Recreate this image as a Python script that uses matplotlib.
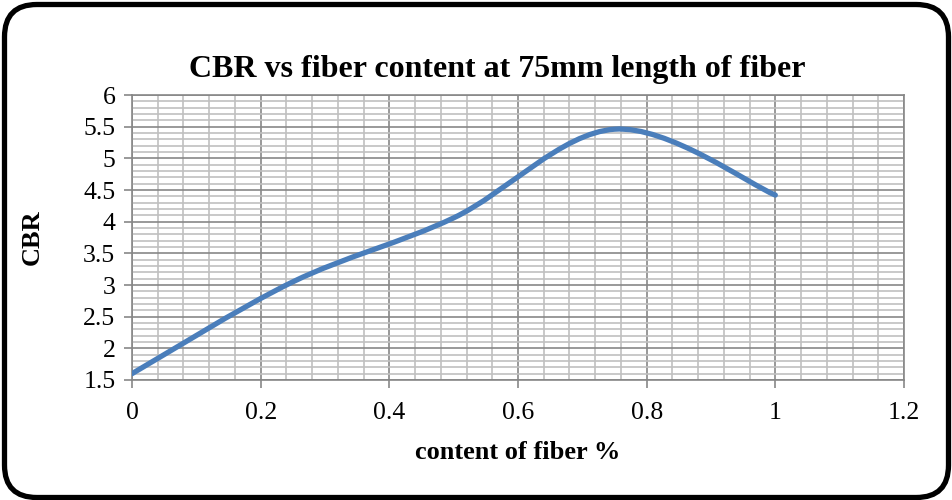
import matplotlib.pyplot as plt
import numpy as np
from matplotlib.path import Path
from matplotlib.patches import PathPatch, FancyBboxPatch
from matplotlib.ticker import MultipleLocator

# data
fiber_content = [0.0, 0.25, 0.5, 0.75, 1.0]
cbr = [1.6, 3.05, 4.06, 5.46, 4.42]

x_ticks = [0, 0.2, 0.4, 0.6, 0.8, 1, 1.2]
x_tick_labels = ['0', '0.2', '0.4', '0.6', '0.8', '1', '1.2']
y_ticks = [1.5, 2, 2.5, 3, 3.5, 4, 4.5, 5, 5.5, 6]
y_tick_labels = ['1.5', '2', '2.5', '3', '3.5', '4', '4.5', '5', '5.5', '6']


def smooth_path(xs, ys):
    # Excel-like smoothed line: cubic bezier segments through each point
    pts = np.column_stack([xs, ys])
    n = len(pts)
    verts = [pts[0]]
    codes = [Path.MOVETO]
    for i in range(n - 1):
        p0 = pts[max(i - 1, 0)]
        p1 = pts[i]
        p2 = pts[i + 1]
        p3 = pts[min(i + 2, n - 1)]
        c1 = p1 + (p2 - p0) / 6.0
        c2 = p2 - (p3 - p1) / 6.0
        verts += [c1, c2, p2]
        codes += [Path.CURVE4] * 3
    return Path(verts, codes)


plt.rcParams['font.family'] = ['Liberation Serif', 'DejaVu Serif']

fig = plt.figure(figsize=(9.52, 5.0), dpi=100)
ax = fig.add_axes([132 / 952, 1 - 380 / 500, (904 - 132) / 952, (380 - 95) / 500])

ax.set_xlim(0, 1.2)
ax.set_ylim(1.5, 6)

ax.set_xticks(x_ticks)
ax.set_xticklabels(x_tick_labels)
ax.set_yticks(y_ticks)
ax.set_yticklabels(y_tick_labels)
ax.xaxis.set_minor_locator(MultipleLocator(0.04))
ax.yaxis.set_minor_locator(MultipleLocator(0.1))

ax.grid(which='major', color='#878787', linewidth=1.2)
ax.grid(which='minor', color='#c0c0c0', linewidth=1.2)
ax.set_axisbelow(True)

for side in ['top', 'right', 'left', 'bottom']:
    ax.spines[side].set_color('#878787')
    ax.spines[side].set_linewidth(1.2)

ax.tick_params(which='major', length=6, width=1.2, color='#878787',
               labelsize=18.5)
ax.tick_params(axis='x', which='major', pad=10)
ax.tick_params(axis='y', which='major', pad=6)
ax.tick_params(which='minor', length=0)

patch = PathPatch(smooth_path(fiber_content, cbr), facecolor='none',
                  edgecolor='#4a7ebb', linewidth=3.8, capstyle='round',
                  joinstyle='round', zorder=3)
ax.add_patch(patch)

ax.set_xlabel('content of fiber %', fontsize=19, fontweight='bold', labelpad=12)
ax.set_ylabel('CBR', fontsize=19, fontweight='bold')
ax.yaxis.set_label_coords(-0.114, 0.5)

fig.text(497 / 952, 1 - 70 / 500, 'CBR vs fiber content at 75mm length of fiber',
         fontsize=23, fontweight='bold', ha='center', va='center')

# rounded frame around the whole chart
frame = FancyBboxPatch((4.5 / 952, 2.5 / 500), 944 / 952, 493 / 500,
                       boxstyle='round,pad=0,rounding_size=0.034',
                       transform=fig.transFigure, facecolor='none',
                       edgecolor='black', linewidth=3.8, mutation_aspect=952 / 500)
fig.patches.append(frame)

fig.savefig('out.png', dpi=100)
